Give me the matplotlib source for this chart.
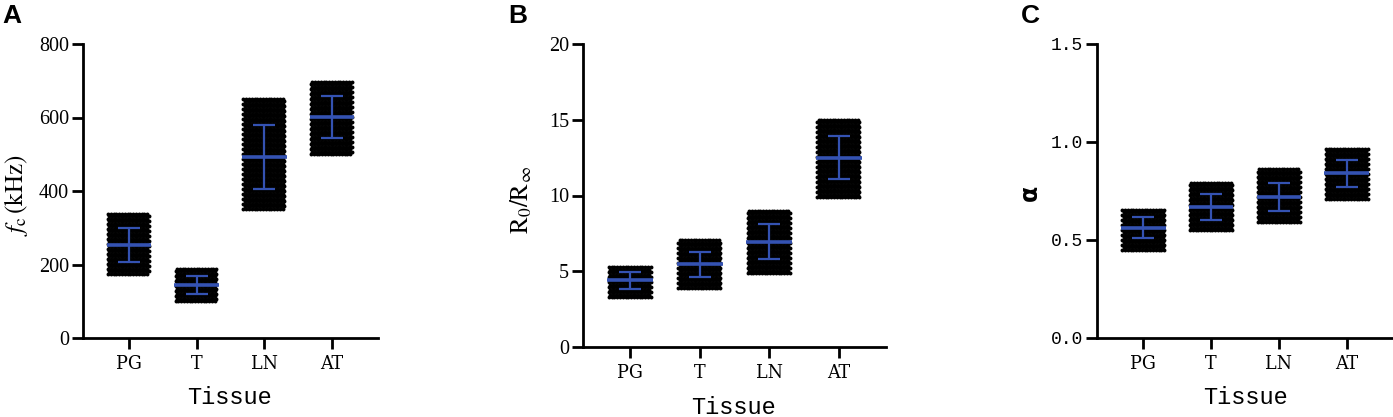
import numpy as np
import matplotlib
matplotlib.use("Agg")
import matplotlib.pyplot as plt

W, H = 1393, 417
tissues = ["PG", "T", "LN", "AT"]

# A: characteristic frequency (kHz)
fc_mean = [252, 145, 492, 602]
fc_sd = [46, 25, 87, 57]
fc_min = [175, 100, 352, 500]
fc_max = [335, 190, 648, 700]

# B: R0 / Rinf
ratio_mean = [4.40, 5.46, 6.95, 12.5]
ratio_sd = [0.56, 0.82, 1.15, 1.42]
ratio_min = [3.3, 3.92, 4.88, 9.9]
ratio_max = [5.35, 7.0, 8.98, 14.96]

# C: alpha
alpha_mean = [0.563, 0.668, 0.721, 0.840]
alpha_sd = [0.055, 0.067, 0.071, 0.070]
alpha_min = [0.45, 0.549, 0.592, 0.711]
alpha_max = [0.66, 0.787, 0.855, 0.966]

BLUE = "#3452b2"
plt.rcParams["mathtext.fontset"] = "stix"
XFONT = dict(family="DejaVu Serif", fontstretch="condensed", fontsize=14)


def px(x, y):
    return x / W, 1 - y / H


def cloud(ax, xc, lo, hi, half_w=0.31):
    # pack the value range with dots, like a dense GraphPad column scatter
    pos = ax.get_position()
    x0, x1 = ax.get_xlim()
    y0, y1 = ax.get_ylim()
    ppx = pos.width * W / (x1 - x0)
    ppy = pos.height * H / (y1 - y0)
    dx, dy = 2.8 / ppx, 2.5 / ppy
    xs, ys = [], []
    for i, yv in enumerate(np.arange(lo, hi + dy / 2, dy)):
        off = (i % 2) * dx / 2
        row = np.arange(-half_w + off, half_w, dx)
        xs.extend(xc + row)
        ys.extend([yv] * len(row))
    ax.scatter(xs, ys, s=8, c="black", linewidths=0, zorder=2)


def panel(rect, means, sds, mins, maxs, ylim, yticks, tickfmt, tickfont, tsize):
    ax = fig.add_axes(rect)
    ax.set_xlim(-0.68, 3.68)
    ax.set_ylim(*ylim)
    x = np.arange(len(tissues))
    for i in x:
        cloud(ax, i, mins[i], maxs[i])
    ax.hlines(means, x - 0.33, x + 0.33, color=BLUE, lw=2.6, zorder=4)
    ax.errorbar(x, means, yerr=sds, fmt="none", ecolor=BLUE, elinewidth=1.6,
                capsize=8, capthick=1.6, zorder=3)
    for s in ["top", "right"]:
        ax.spines[s].set_visible(False)
    for s in ["left", "bottom"]:
        ax.spines[s].set_linewidth(2.0)
    ax.tick_params(width=2.0, length=8, direction="out")
    ax.tick_params(axis="x", pad=4)
    ax.tick_params(axis="y", pad=2)
    ax.set_xticks(x)
    ax.set_xticklabels(tissues, **XFONT)
    ax.set_yticks(yticks)
    ax.set_yticklabels([tickfmt.format(v) for v in yticks], family=tickfont, fontsize=tsize)
    return ax


fig = plt.figure(figsize=(W / 100, H / 100), dpi=100)

panel([83 / W, (H - 338) / H, 295 / W, 294 / H], fc_mean, fc_sd, fc_min, fc_max,
      (0, 800), [0, 200, 400, 600, 800], "{:.0f}", "Liberation Serif", 14.5)
panel([583 / W, (H - 347) / H, 303 / W, 303 / H], ratio_mean, ratio_sd, ratio_min, ratio_max,
      (0, 20), [0, 5, 10, 15, 20], "{:.0f}", "Liberation Serif", 14.5)
panel([1097 / W, (H - 338) / H, 296 / W, 294 / H], alpha_mean, alpha_sd, alpha_min, alpha_max,
      (0, 1.5), [0.0, 0.5, 1.0, 1.5], "{:.1f}", "Liberation Mono", 13)

# axis titles
for cx, cy in [(230, 397), (734, 407), (1245, 397)]:
    fig.text(*px(cx, cy), "Tissue", family="Liberation Mono", fontsize=17,
             ha="center", va="center")
fig.text(*px(16, 195), r"$f_\mathrm{c}\,\mathrm{(kHz)}$", fontsize=18, rotation=90,
         ha="center", va="center")
fig.text(*px(521, 200), r"$\mathrm{R_0/R_\infty}$", fontsize=18, rotation=90,
         ha="center", va="center")
fig.text(*px(1030, 193), "α", fontsize=17, fontweight="bold", rotation=90,
         ha="center", va="center")

# panel letters
for lx, lab in [(2, "A"), (508, "B"), (1021, "C")]:
    fig.text(*px(lx, 16), lab, family="Liberation Sans", fontsize=19, fontweight="bold",
             ha="left", va="center")

fig.savefig("out.png", dpi=100)
